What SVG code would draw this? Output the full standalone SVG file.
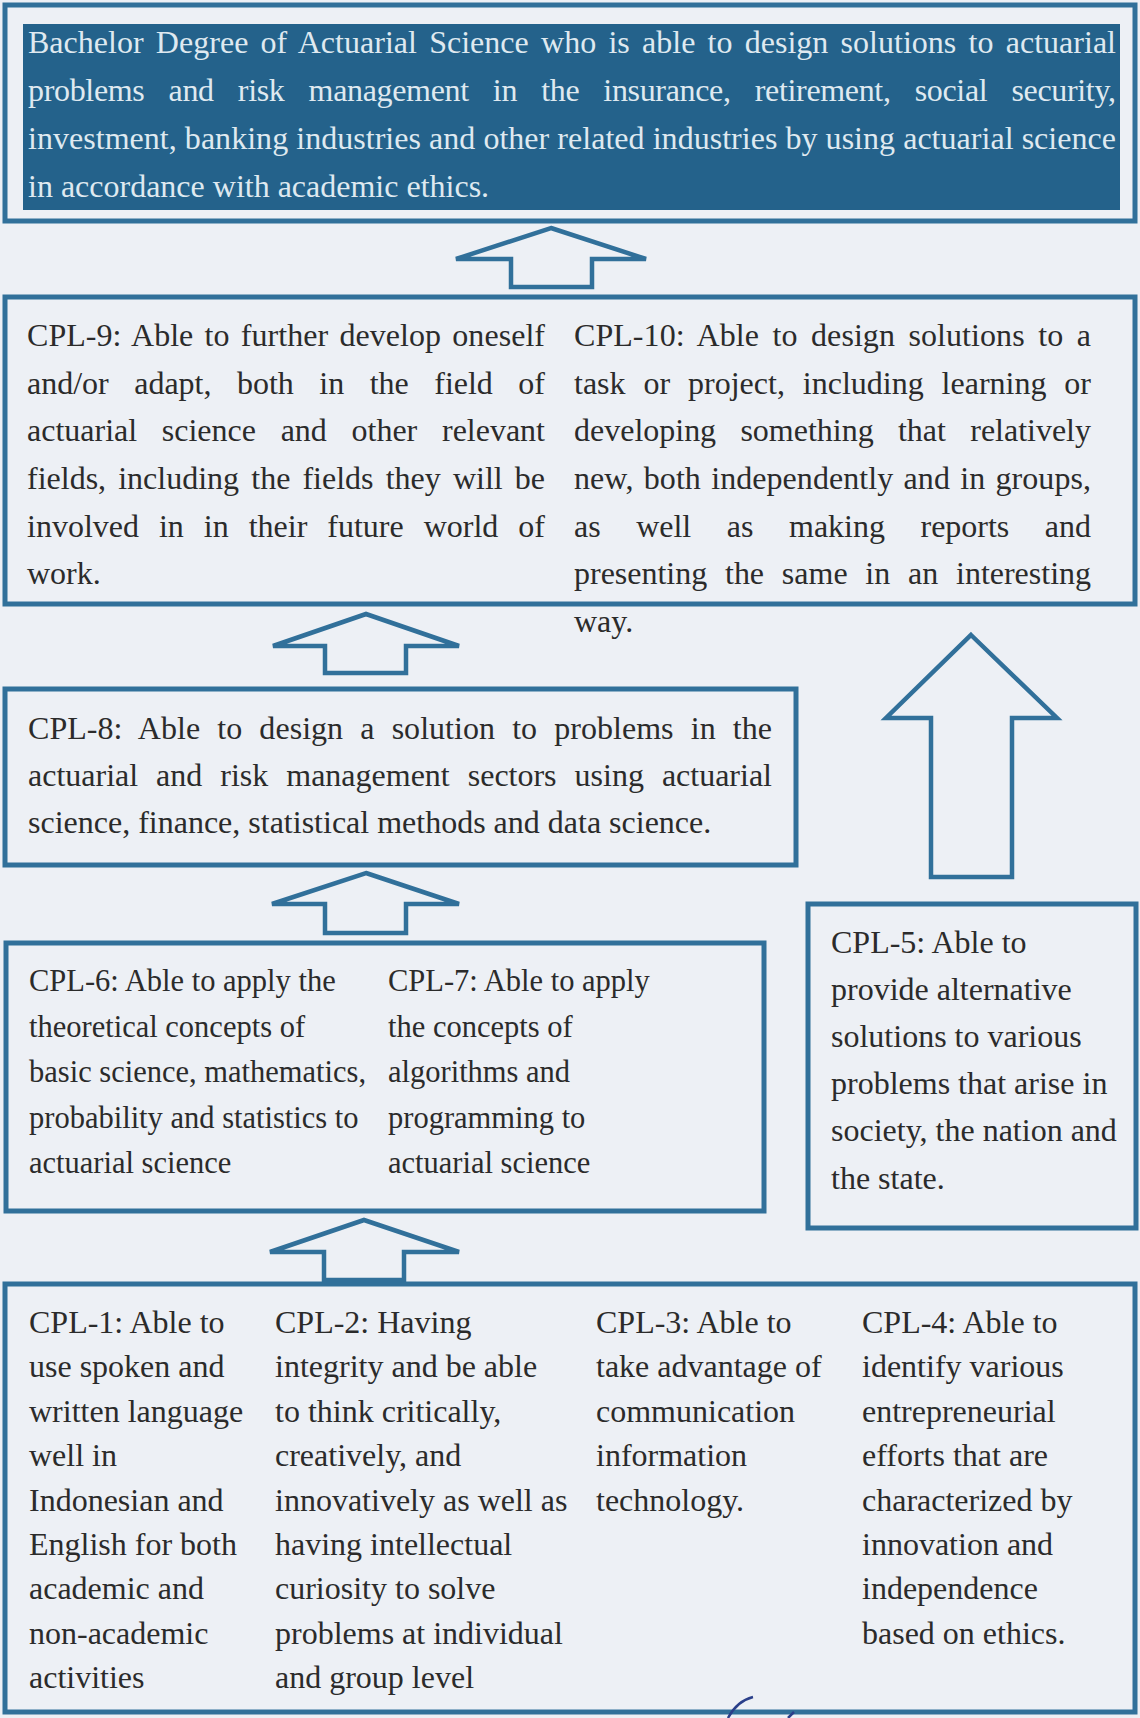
<svg xmlns="http://www.w3.org/2000/svg" width="1140" height="1718" viewBox="0 0 1140 1718">
<style>
.bg{fill:#edf0f5}
.box{fill:none;stroke:#31709a;stroke-width:5}
.dark{fill:#24628b}
.arrow{fill:none;stroke:#31709a;stroke-width:4.5;stroke-linejoin:miter}
.t{font-family:"Liberation Serif","Times New Roman",serif;font-size:32px;fill:#2b2b2b}
.s{font-size:30.5px}
.w{fill:#dfe9f0}
</style>
<rect class="bg" x="0" y="0" width="1140" height="1718"/>

<g id="goal">
<rect class="box" x="5" y="5" width="1130" height="216"/>
<rect class="dark" x="23" y="24" width="1097" height="186"/>
<text class="t w" x="28" y="53" word-spacing="4.2" textLength="1088" lengthAdjust="spacing">Bachelor Degree of Actuarial Science who is able to design solutions to actuarial</text>
<text class="t w" x="28" y="101" word-spacing="16.4" textLength="1088" lengthAdjust="spacing">problems and risk management in the insurance, retirement, social security,</text>
<text class="t w" x="28" y="149" textLength="1088" lengthAdjust="spacing">investment, banking industries and other related industries by using actuarial science</text>
<text class="t w" x="28" y="197">in accordance with academic ethics.</text>
</g>

<g id="cpl9-10">
<rect class="box" x="5" y="297" width="1130" height="307"/>
<text class="t" x="27" y="346" word-spacing="3.2" textLength="518" lengthAdjust="spacing">CPL-9: Able to further develop oneself</text>
<text class="t" x="27" y="394" word-spacing="17.5" textLength="518" lengthAdjust="spacing">and/or adapt, both in the field of</text>
<text class="t" x="27" y="441" word-spacing="16.7" textLength="518" lengthAdjust="spacing">actuarial science and other relevant</text>
<text class="t" x="27" y="489" word-spacing="4.1" textLength="518" lengthAdjust="spacing">fields, including the fields they will be</text>
<text class="t" x="27" y="537" word-spacing="12" textLength="518" lengthAdjust="spacing">involved in in their future world of</text>
<text class="t" x="27" y="584">work.</text>
<text class="t" x="574" y="346" word-spacing="5.5" textLength="517" lengthAdjust="spacing">CPL-10: Able to design solutions to a</text>
<text class="t" x="574" y="394" word-spacing="10" textLength="517" lengthAdjust="spacing">task or project, including learning or</text>
<text class="t" x="574" y="441" word-spacing="16.3" textLength="517" lengthAdjust="spacing">developing something that relatively</text>
<text class="t" x="574" y="489" word-spacing="2.2" textLength="517" lengthAdjust="spacing">new, both independently and in groups,</text>
<text class="t" x="574" y="537" word-spacing="27.6" textLength="517" lengthAdjust="spacing">as well as making reports and</text>
<text class="t" x="574" y="584" word-spacing="9.8" textLength="517" lengthAdjust="spacing">presenting the same in an interesting</text>
<text class="t" x="574" y="632">way.</text>
</g>

<g id="cpl8">
<rect class="box" x="5" y="689" width="791" height="176"/>
<text class="t" x="28" y="739" word-spacing="9.1" textLength="744" lengthAdjust="spacing">CPL-8: Able to design a solution to problems in the</text>
<text class="t" x="28" y="786" word-spacing="10" textLength="744" lengthAdjust="spacing">actuarial and risk management sectors using actuarial</text>
<text class="t" x="28" y="833">science, finance, statistical methods and data science.</text>
</g>

<g id="cpl6-7">
<rect class="box" x="6" y="943" width="758" height="268"/>
<text class="t s" x="29" y="991">CPL-6: Able to apply the</text>
<text class="t s" x="29" y="1037">theoretical concepts of</text>
<text class="t s" x="29" y="1082">basic science, mathematics,</text>
<text class="t s" x="29" y="1128">probability and statistics to</text>
<text class="t s" x="29" y="1173">actuarial science</text>
<text class="t s" x="388" y="991">CPL-7: Able to apply</text>
<text class="t s" x="388" y="1037">the concepts of</text>
<text class="t s" x="388" y="1082">algorithms and</text>
<text class="t s" x="388" y="1128">programming to</text>
<text class="t s" x="388" y="1173">actuarial science</text>
</g>

<g id="cpl5">
<rect class="box" x="808" y="904" width="328" height="324"/>
<text class="t" x="831" y="953">CPL-5: Able to</text>
<text class="t" x="831" y="1000">provide alternative</text>
<text class="t" x="831" y="1047">solutions to various</text>
<text class="t" x="831" y="1094">problems that arise in</text>
<text class="t" x="831" y="1141">society, the nation and</text>
<text class="t" x="831" y="1189">the state.</text>
</g>

<g id="cpl1-4">
<rect class="box" x="5" y="1284" width="1130" height="428"/>
<text class="t" x="29" y="1333">CPL-1: Able to</text>
<text class="t" x="29" y="1377">use spoken and</text>
<text class="t" x="29" y="1422">written language</text>
<text class="t" x="29" y="1466">well in</text>
<text class="t" x="29" y="1511">Indonesian and</text>
<text class="t" x="29" y="1555">English for both</text>
<text class="t" x="29" y="1599">academic and</text>
<text class="t" x="29" y="1644">non-academic</text>
<text class="t" x="29" y="1688">activities</text>
<text class="t" x="275" y="1333">CPL-2: Having</text>
<text class="t" x="275" y="1377">integrity and be able</text>
<text class="t" x="275" y="1422">to think critically,</text>
<text class="t" x="275" y="1466">creatively, and</text>
<text class="t" x="275" y="1511">innovatively as well as</text>
<text class="t" x="275" y="1555">having intellectual</text>
<text class="t" x="275" y="1599">curiosity to solve</text>
<text class="t" x="275" y="1644">problems at individual</text>
<text class="t" x="275" y="1688">and group level</text>
<text class="t" x="596" y="1333">CPL-3: Able to</text>
<text class="t" x="596" y="1377">take advantage of</text>
<text class="t" x="596" y="1422">communication</text>
<text class="t" x="596" y="1466">information</text>
<text class="t" x="596" y="1511">technology.</text>
<text class="t" x="862" y="1333">CPL-4: Able to</text>
<text class="t" x="862" y="1377">identify various</text>
<text class="t" x="862" y="1422">entrepreneurial</text>
<text class="t" x="862" y="1466">efforts that are</text>
<text class="t" x="862" y="1511">characterized by</text>
<text class="t" x="862" y="1555">innovation and</text>
<text class="t" x="862" y="1599">independence</text>
<text class="t" x="862" y="1644">based on ethics.</text>
</g>

<g id="connectors">
<polygon class="arrow" points="551,228 646,259 592,259 592,287 511,287 511,259 456,259"/>
<polygon class="arrow" points="366,614 459,646 406,646 406,673 325,673 325,646 273,646"/>
<polygon class="arrow" points="366,873 459,904 406,904 406,933 325,933 325,904 272,904"/>
<polygon class="arrow" points="364,1220 459,1252 404,1252 404,1280 324,1280 324,1252 270,1252"/>
<polygon class="arrow" points="971,635 1057,718 1012,718 1012,877 931,877 931,718 886,718"/>
</g>

<path d="M728 1718 Q737 1701 753 1697" fill="none" stroke="#2a3f8a" stroke-width="2.5"/>
<path d="M788 1718 L794 1712" fill="none" stroke="#2a3f8a" stroke-width="2.5"/>
</svg>
